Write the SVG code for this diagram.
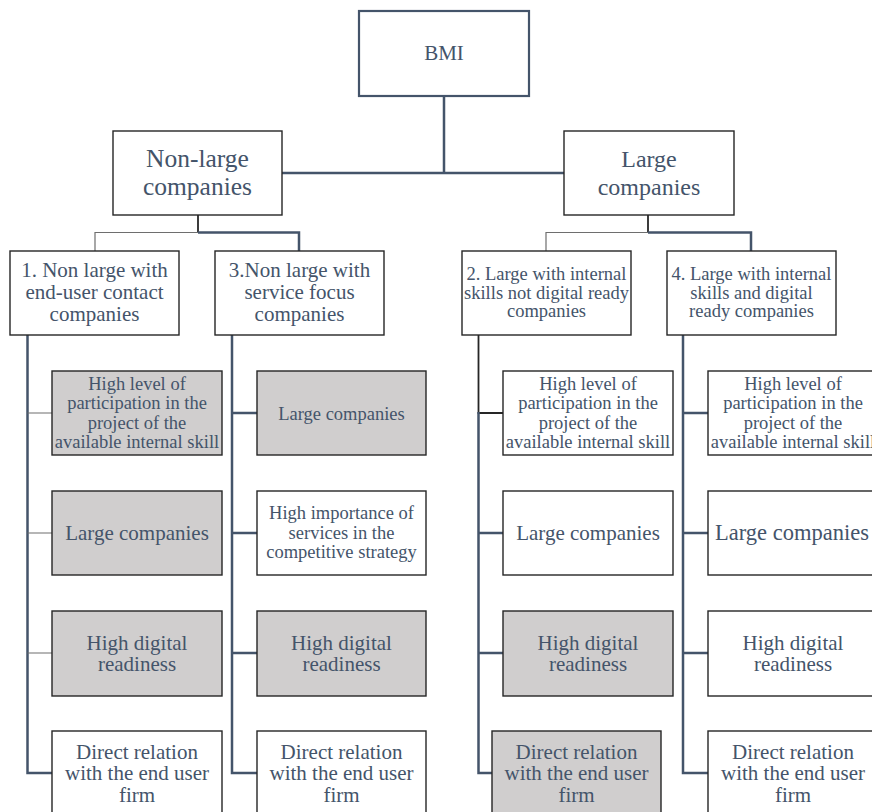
<svg xmlns="http://www.w3.org/2000/svg" width="872" height="812" viewBox="0 0 872 812">
  <style>
    text { font-family: "Liberation Serif", "Times New Roman", Times, serif; fill: #44546a; text-anchor: middle; }
    .box { fill: #ffffff; stroke: #262626; stroke-width: 1.4; }
    .shade { fill: #d0cece; }
    .root { fill: #ffffff; stroke: #44546a; stroke-width: 2.2; }
    .thick { fill: none; stroke: #44546a; stroke-width: 2.5; }
    .dark { fill: none; stroke: #262626; stroke-width: 1.8; }
    .thin { fill: none; stroke: #6e6e6e; stroke-width: 1.2; }
    .t25 { font-size: 25.5px; }
    .t24 { font-size: 24px; }
    .t21 { font-size: 21px; }
    .t18 { font-size: 18.5px; }
  </style>
  <rect width="872" height="812" fill="#ffffff"/>

  <!-- connectors -->
  <g id="connectors">
    <!-- root to the two size groups -->
    <path class="thick" d="M444 96 V173 M282 173 H564"/>
    <!-- Non-large companies to clusters 1 and 3 -->
    <path class="dark" d="M198 215 V233"/>
    <path class="thin" d="M198 232.5 H95 V251"/>
    <path class="thick" d="M198 232.5 H299 V251"/>
    <!-- Large companies to clusters 2 and 4 -->
    <path class="dark" d="M648 215 V233"/>
    <path class="thin" d="M648 232.5 H546 V251"/>
    <path class="thick" d="M648 232.5 H751 V251"/>
    <!-- cluster 1 trunk and branches -->
    <path class="thick" d="M27.5 335 V773 H52"/>
    <path class="thin" d="M27.5 413 H52 M27.5 533 H52 M27.5 653 H52"/>
    <!-- cluster 3 trunk and branches -->
    <path class="thick" d="M232 335 V773 H257"/>
    <path class="thick" d="M232 413 H257 M232 533 H257 M232 653 H257"/>
    <!-- cluster 2 trunk and branches -->
    <path class="dark" d="M478.5 335 V413 H503"/>
    <path class="thick" d="M478.5 412 V773 H492"/>
    <path class="thick" d="M478.5 533 H503 M478.5 653 H503"/>
    <!-- cluster 4 trunk and branches -->
    <path class="thick" d="M683 335 V773 H708"/>
    <path class="thick" d="M683 413 H708 M683 533 H708 M683 653 H708"/>
  </g>

  <!-- root -->
  <g id="bmi">
    <rect class="root" x="359" y="11" width="170" height="85"/>
    <text class="t21" x="444" y="60">BMI</text>
  </g>

  <!-- size groups -->
  <g id="non-large">
    <rect class="box" x="113" y="131" width="169" height="84"/>
    <text class="t25" x="197.5" y="167">Non-large</text>
    <text class="t25" x="197.5" y="194.5">companies</text>
  </g>
  <g id="large">
    <rect class="box" x="564" y="131" width="170" height="84"/>
    <text class="t24" x="649" y="167">Large</text>
    <text class="t24" x="649" y="194.5">companies</text>
  </g>

  <!-- clusters -->
  <g id="cluster-1">
    <rect class="box" x="10" y="251" width="169" height="84"/>
    <text class="t21" x="94.5" y="277">1. Non large with</text>
    <text class="t21" x="94.5" y="299">end-user contact</text>
    <text class="t21" x="94.5" y="321">companies</text>
  </g>
  <g id="cluster-3">
    <rect class="box" x="215" y="251" width="169" height="84"/>
    <text class="t21" x="299.5" y="277">3.Non large with</text>
    <text class="t21" x="299.5" y="299">service focus</text>
    <text class="t21" x="299.5" y="321">companies</text>
  </g>
  <g id="cluster-2">
    <rect class="box" x="462" y="251" width="169" height="84"/>
    <text class="t18" x="546.5" y="280">2. Large with internal</text>
    <text class="t18" x="546.5" y="298.5">skills not digital ready</text>
    <text class="t18" x="546.5" y="317">companies</text>
  </g>
  <g id="cluster-4">
    <rect class="box" x="667" y="251" width="169" height="84"/>
    <text class="t18" x="751.5" y="280">4. Large with internal</text>
    <text class="t18" x="751.5" y="298.5">skills and digital</text>
    <text class="t18" x="751.5" y="317">ready companies</text>
  </g>

  <!-- cluster 1 traits -->
  <g id="c1-skill">
    <rect class="box shade" x="52" y="371" width="170" height="84"/>
    <text class="t18" x="137" y="389.5">High level of</text>
    <text class="t18" x="137" y="409">participation in the</text>
    <text class="t18" x="137" y="428.5">project of the</text>
    <text class="t18" x="137" y="447.5">available internal skill</text>
  </g>
  <g id="c1-large">
    <rect class="box shade" x="52" y="491" width="170" height="84"/>
    <text class="t21" x="137" y="540">Large companies</text>
  </g>
  <g id="c1-digital">
    <rect class="box shade" x="52" y="611" width="170" height="85"/>
    <text class="t21" x="137" y="650">High digital</text>
    <text class="t21" x="137" y="671">readiness</text>
  </g>
  <g id="c1-enduser">
    <rect class="box" x="52" y="731" width="170" height="86"/>
    <text class="t21" x="137" y="758.5">Direct relation</text>
    <text class="t21" x="137" y="780">with the end user</text>
    <text class="t21" x="137" y="801.5">firm</text>
  </g>

  <!-- cluster 3 traits -->
  <g id="c3-large">
    <rect class="box shade" x="257" y="371" width="169" height="84"/>
    <text class="t18" x="341.5" y="419.5">Large companies</text>
  </g>
  <g id="c3-services">
    <rect class="box" x="257" y="491" width="169" height="84"/>
    <text class="t18" x="341.5" y="518.5">High importance of</text>
    <text class="t18" x="341.5" y="538.5">services in the</text>
    <text class="t18" x="341.5" y="558">competitive strategy</text>
  </g>
  <g id="c3-digital">
    <rect class="box shade" x="257" y="611" width="169" height="85"/>
    <text class="t21" x="341.5" y="650">High digital</text>
    <text class="t21" x="341.5" y="671">readiness</text>
  </g>
  <g id="c3-enduser">
    <rect class="box" x="257" y="731" width="169" height="86"/>
    <text class="t21" x="341.5" y="758.5">Direct relation</text>
    <text class="t21" x="341.5" y="780">with the end user</text>
    <text class="t21" x="341.5" y="801.5">firm</text>
  </g>

  <!-- cluster 2 traits -->
  <g id="c2-skill">
    <rect class="box" x="503" y="371" width="170" height="84"/>
    <text class="t18" x="588" y="389.5">High level of</text>
    <text class="t18" x="588" y="409">participation in the</text>
    <text class="t18" x="588" y="428.5">project of the</text>
    <text class="t18" x="588" y="447.5">available internal skill</text>
  </g>
  <g id="c2-large">
    <rect class="box" x="503" y="491" width="170" height="84"/>
    <text class="t21" x="588" y="540">Large companies</text>
  </g>
  <g id="c2-digital">
    <rect class="box shade" x="503" y="611" width="170" height="85"/>
    <text class="t21" x="588" y="650">High digital</text>
    <text class="t21" x="588" y="671">readiness</text>
  </g>
  <g id="c2-enduser">
    <rect class="box shade" x="492" y="731" width="169" height="86"/>
    <text class="t21" x="576.5" y="758.5">Direct relation</text>
    <text class="t21" x="576.5" y="780">with the end user</text>
    <text class="t21" x="576.5" y="801.5">firm</text>
  </g>

  <!-- cluster 4 traits -->
  <g id="c4-skill">
    <rect class="box" x="708" y="371" width="170" height="84"/>
    <text class="t18" x="793" y="389.5">High level of</text>
    <text class="t18" x="793" y="409">participation in the</text>
    <text class="t18" x="793" y="428.5">project of the</text>
    <text class="t18" x="793" y="447.5">available internal skill</text>
  </g>
  <g id="c4-large">
    <rect class="box" x="708" y="491" width="170" height="84"/>
    <text x="792" y="540" style="font-size:22.5px">Large companies</text>
  </g>
  <g id="c4-digital">
    <rect class="box" x="708" y="611" width="170" height="85"/>
    <text class="t21" x="793" y="650">High digital</text>
    <text class="t21" x="793" y="671">readiness</text>
  </g>
  <g id="c4-enduser">
    <rect class="box" x="708" y="731" width="170" height="86"/>
    <text class="t21" x="793" y="758.5">Direct relation</text>
    <text class="t21" x="793" y="780">with the end user</text>
    <text class="t21" x="793" y="801.5">firm</text>
  </g>
</svg>
